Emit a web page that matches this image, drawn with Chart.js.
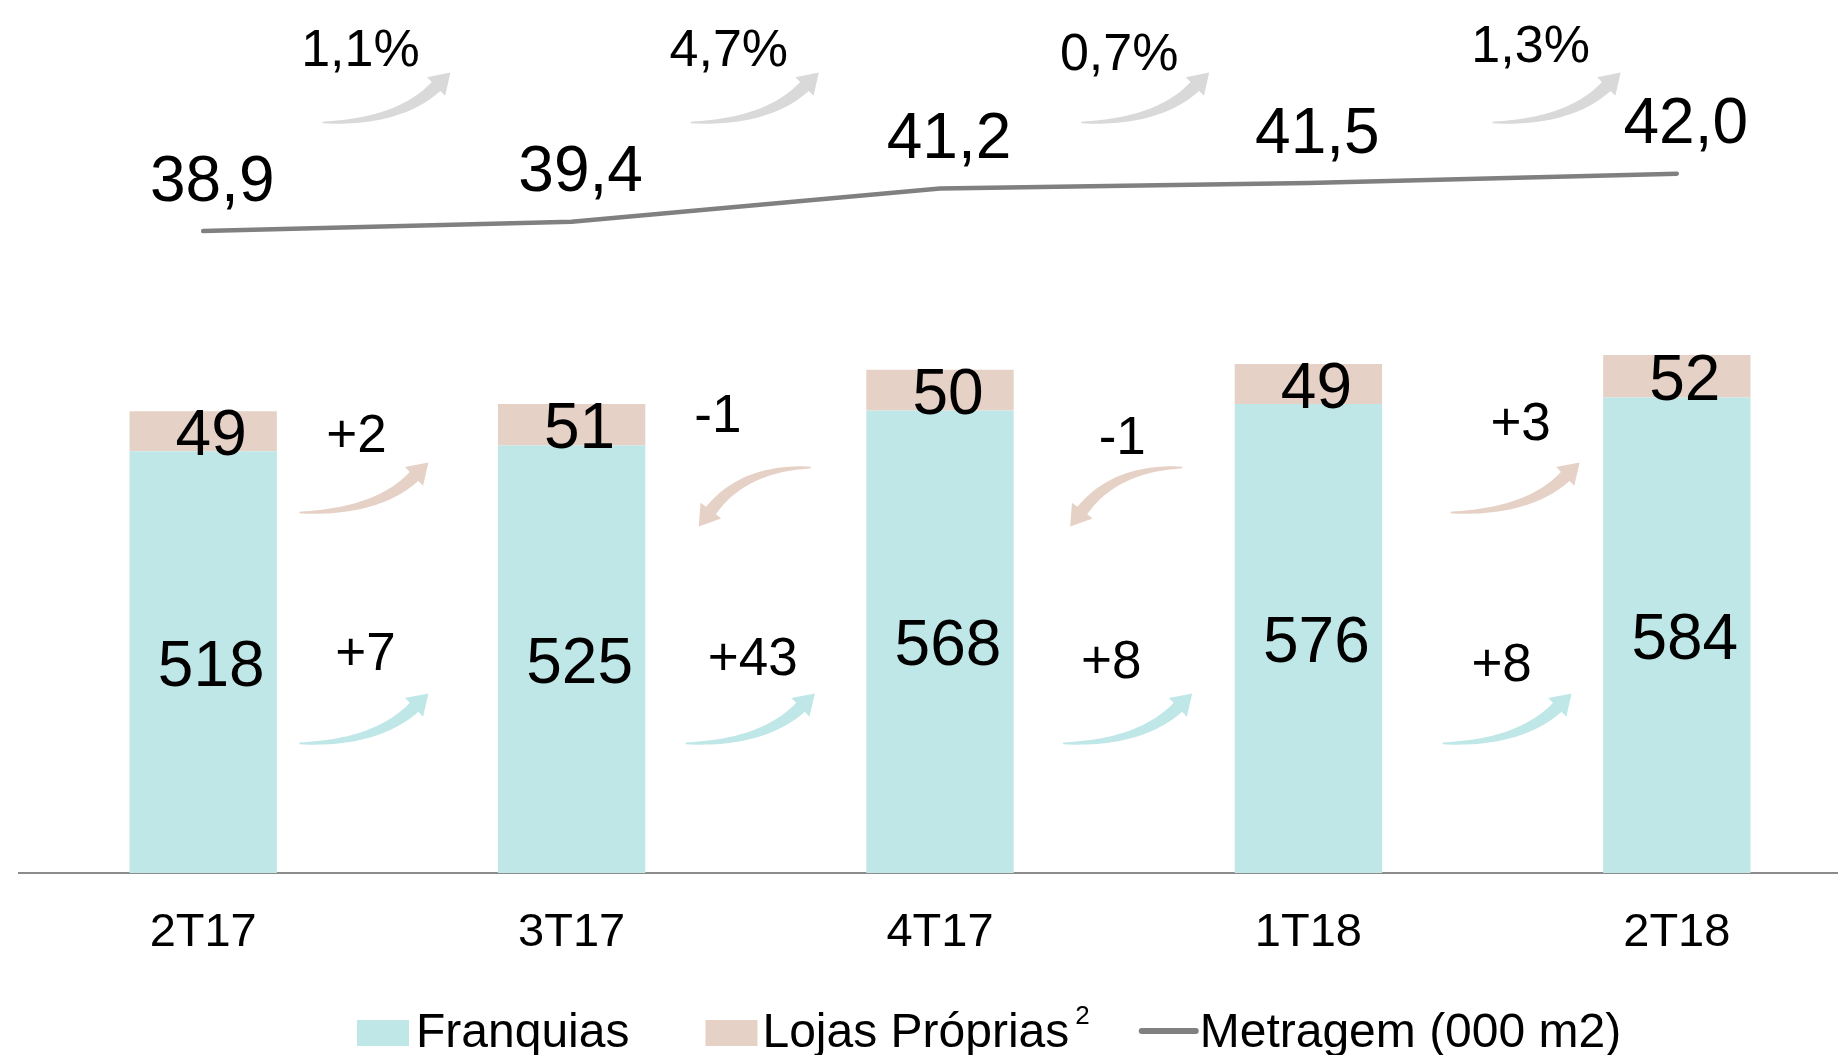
<!DOCTYPE html>
<html>
<head>
<meta charset="utf-8">
<script src="https://cdn.jsdelivr.net/npm/chart.js@4.4.1/dist/chart.umd.min.js"></script>
<style>
  html, body { margin: 0; padding: 0; background: #fff; overflow: hidden; }
  #wrap { position: relative; width: 1862px; height: 1055px; }
</style>
</head>
<body>
<div id="wrap"><canvas id="chart"></canvas></div>
<script>
const quarters = ['2T17', '3T17', '4T17', '1T18', '2T18'];
const franquias = [518, 525, 568, 576, 584];
const lojasProprias = [49, 51, 50, 49, 52];
const metragem = [38.9, 39.4, 41.2, 41.5, 42.0];
// variação entre trimestres
const franquiasDelta = ['+7', '+43', '+8', '+8'];
const lojasDelta = ['+2', '-1', '-1', '+3'];
const metragemDelta = ['1,1%', '4,7%', '0,7%', '1,3%'];

const FONT = '"Liberation Sans", Arial, sans-serif';
const TEAL = '#c0e7e7';
const PEACH = '#e6d1c6';
const GREY_LINE = '#808080';
const GREY_ARROW = '#d9d9d9';

function font(size) { return size + 'px ' + FONT; }

// seta curva: fina na cauda, mais larga perto da ponta
function curvedArrow(ctx, tx, ty, px, py, color) {
  const cx = tx + 0.6 * (px - tx), cy = ty;
  let ux = px - cx, uy = py - cy;
  const len = Math.hypot(ux, uy);
  ux /= len; uy /= len;
  const headLen = 20, headHalf = 13;
  const bx = px - ux * headLen, by = py - uy * headLen;
  const left = [], right = [];
  const n = 30;
  for (let i = 0; i <= n; i++) {
    const t = i / n;
    const x = (1 - t) * (1 - t) * tx + 2 * (1 - t) * t * cx + t * t * bx;
    const y = (1 - t) * (1 - t) * ty + 2 * (1 - t) * t * cy + t * t * by;
    const dx = 2 * (1 - t) * (cx - tx) + 2 * t * (bx - cx);
    const dy = 2 * (1 - t) * (cy - ty) + 2 * t * (by - cy);
    const d = Math.hypot(dx, dy) || 1;
    const nx = -dy / d, ny = dx / d;
    const w = 0.8 + 5.4 * Math.pow(t, 0.8);
    left.push([x + nx * w, y + ny * w]);
    right.push([x - nx * w, y - ny * w]);
  }
  const nx = -uy, ny = ux;
  ctx.save();
  ctx.fillStyle = color;
  ctx.beginPath();
  ctx.moveTo(left[0][0], left[0][1]);
  left.forEach(p => ctx.lineTo(p[0], p[1]));
  ctx.lineTo(bx + nx * headHalf, by + ny * headHalf);
  ctx.lineTo(px, py);
  ctx.lineTo(bx - nx * headHalf, by - ny * headHalf);
  for (let i = right.length - 1; i >= 0; i--) ctx.lineTo(right[i][0], right[i][1]);
  ctx.closePath();
  ctx.fill();
  ctx.restore();
}

// rótulos das barras e da linha, setas de variação
const labelsPlugin = {
  id: 'labels',
  afterDatasetsDraw(chart, args, opts) {
    const ctx = chart.ctx;
    const x = chart.scales.x, y = chart.scales.y, y2 = chart.scales.y2;
    ctx.save();
    ctx.fillStyle = '#000';
    ctx.textAlign = 'center';
    ctx.textBaseline = 'middle';

    // valores dentro das barras
    ctx.font = font(64);
    [0, 1].forEach(di => {
      chart.getDatasetMeta(di).data.forEach((bar, i) => {
        ctx.fillText(String(chart.data.datasets[di].data[i]), bar.x + 8, (bar.y + bar.base) / 2 + 6);
      });
    });

    // valores da metragem
    chart.getDatasetMeta(2).data.forEach((pt, i) => {
      ctx.fillText(metragem[i].toFixed(1).replace('.', ','), pt.x + 9, pt.y - 48);
    });

    const growthRow = y2.getPixelForValue(48.7);
    const lojasRow = y.getPixelForValue(547);
    const franqRow = y.getPixelForValue(266);

    for (let i = 0; i < quarters.length - 1; i++) {
      const mid = (x.getPixelForValue(i) + x.getPixelForValue(i + 1)) / 2;

      // metragem
      const g = mid + opts.growthShift[i];
      curvedArrow(ctx, g - 65, growthRow + 73, g + 63, growthRow + 23, GREY_ARROW);
      ctx.fillStyle = '#000';
      ctx.font = font(52);
      ctx.fillText(metragemDelta[i], g - 27, growthRow + opts.growthTextY[i]);

      // lojas próprias
      ctx.font = font(53);
      const c = mid + opts.lojasShift[i];
      if (lojasDelta[i].startsWith('-')) {
        curvedArrow(ctx, c + 56, lojasRow + 40, c - 56, lojasRow + 99, PEACH);
      } else {
        curvedArrow(ctx, c - 64, lojasRow + 85, c + 65, lojasRow + 35, PEACH);
      }
      ctx.fillStyle = '#000';
      ctx.fillText(lojasDelta[i], mid + opts.lojasText[i], lojasRow + opts.lojasTextY[i]);

      // franquias
      const f = mid + opts.franqShift[i];
      curvedArrow(ctx, f - 64, franqRow + 87, f + 65, franqRow + 37, TEAL);
      ctx.fillStyle = '#000';
      ctx.fillText(franquiasDelta[i], mid + opts.franqText[i], franqRow + opts.franqTextY[i]);
    }
    ctx.restore();
  },
  afterDraw(chart) {
    // legenda
    const ctx = chart.ctx;
    const cy = 1031;
    ctx.save();
    ctx.textAlign = 'left';
    ctx.textBaseline = 'alphabetic';
    ctx.font = font(48);
    let xx = 357;
    ctx.fillStyle = TEAL;
    ctx.fillRect(xx, 1020, 52, 26);
    ctx.fillStyle = '#000';
    ctx.fillText('Franquias', xx + 59, 1047);
    xx = xx + 59 + ctx.measureText('Franquias').width + 76;
    ctx.fillStyle = PEACH;
    ctx.fillRect(xx, 1020, 52, 26);
    ctx.fillStyle = '#000';
    ctx.fillText('Lojas Próprias', xx + 57, 1047);
    xx = xx + 57 + ctx.measureText('Lojas Próprias').width;
    ctx.font = font(26);
    ctx.fillText('2', xx + 6, 1024);
    xx = xx + 6 + ctx.measureText('2').width + 50;
    ctx.strokeStyle = GREY_LINE;
    ctx.lineWidth = 6;
    ctx.lineCap = 'round';
    ctx.beginPath();
    ctx.moveTo(xx + 2, cy);
    ctx.lineTo(xx + 56, cy);
    ctx.stroke();
    ctx.font = font(48);
    ctx.fillText('Metragem (000 m2)', xx + 60, 1047);
    ctx.restore();
  }
};

new Chart(document.getElementById('chart'), {
  data: {
    labels: quarters,
    datasets: [
      {
        type: 'bar',
        label: 'Franquias',
        data: franquias,
        backgroundColor: TEAL,
        yAxisID: 'y',
        order: 1,
        barPercentage: 1,
        categoryPercentage: 0.4
      },
      {
        type: 'bar',
        label: 'Lojas Próprias',
        data: lojasProprias,
        backgroundColor: PEACH,
        yAxisID: 'y',
        order: 1,
        barPercentage: 1,
        categoryPercentage: 0.4
      },
      {
        type: 'line',
        label: 'Metragem (000 m2)',
        data: metragem,
        borderColor: GREY_LINE,
        borderWidth: 4.5,
        borderCapStyle: 'round',
        pointRadius: 0,
        tension: 0,
        yAxisID: 'y2',
        order: 0
      }
    ]
  },
  options: {
    responsive: true,
    maintainAspectRatio: false,
    animation: false,
    layout: { padding: { left: 19, right: 1, top: 0, bottom: 0 } },
    plugins: {
      legend: { display: false },
      tooltip: { enabled: false },
      labels: {
        growthShift: [0, 0, 22, 65],
        growthTextY: [2, 2, 6, -2],
        lojasShift: [-24, -1, 2, 22],
        lojasText: [-31, -38, -2, 28],
        lojasTextY: [10, -10, 12, -2],
        franqShift: [-24, -6, 3, 14],
        franqText: [-22, -3, -13, 9],
        franqTextY: [-1, 4, 7, 10]
      }
    },
    scales: {
      x: {
        stacked: true,
        offset: true,
        grid: { display: false, drawTicks: false },
        border: { display: true, color: '#8c8c8c', width: 2 },
        ticks: { color: '#000', font: { family: FONT, size: 47 }, padding: 32 },
        afterFit: (scale) => { scale.height = 182; }
      },
      y: { stacked: true, display: false, min: 0, max: 1072 },
      y2: { display: false, min: 4.26, max: 51.37 }
    }
  },
  plugins: [labelsPlugin]
});
</script>
</body>
</html>
